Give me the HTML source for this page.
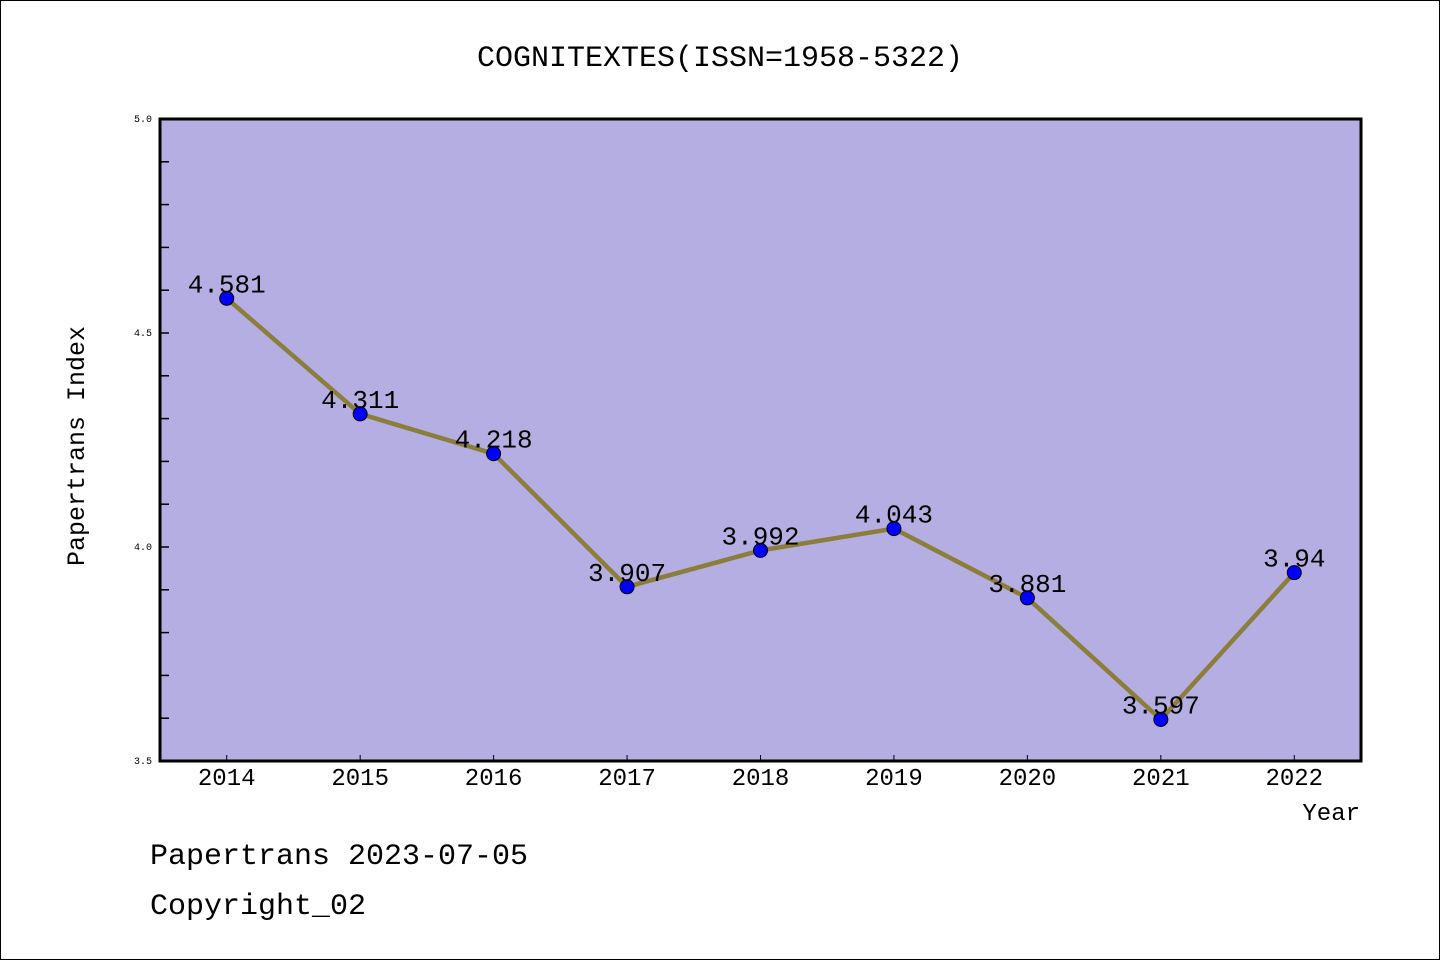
<!DOCTYPE html>
<html><head><meta charset="utf-8"><style>
body{margin:0;background:#fff}
svg{display:block}
text{font-family:"Liberation Mono","WenQuanYi Zen Hei",monospace;fill:#000}
</style></head><body>
<svg width="1440" height="960">
<rect x="0.5" y="0.5" width="1439" height="959" fill="#fff" stroke="#000"/>
<text x="720" y="66" font-size="30" text-anchor="middle">COGNITEXTES(ISSN=1958-5322)</text>
<rect x="160" y="119" width="1201" height="642" fill="#b5aee2"/>
<g id="axes"></g>
<g id="series"></g>
<rect x="160" y="119" width="1201" height="642" fill="none" stroke="#000" stroke-width="3"/>
<text x="84" y="446" font-size="25" text-anchor="middle" transform="rotate(-90 84 446)">Papertrans Index</text>
<text x="1360" y="820" font-size="24" text-anchor="end">Year</text>
<text x="150" y="864" font-size="30">Papertrans 2023-07-05</text>
<text x="150" y="914" font-size="30">Copyright_02</text>
</svg>
<script>
const years=[2014,2015,2016,2017,2018,2019,2020,2021,2022];
const values=[4.581,4.311,4.218,3.907,3.992,4.043,3.881,3.597,3.94];
const labels=["4.581","4.311","4.218","3.907","3.992","4.043","3.881","3.597","3.94"];
const yTicks=["3.5","4.0","4.5","5.0"];
const NS="http://www.w3.org/2000/svg";
const L=160,R=1361,T=119,B=761;
const xs=v=>L+(v-2013.5)/9*(R-L);
const ys=v=>B-(v-3.5)/1.5*(B-T);
function mk(tag,attrs,parent){const e=document.createElementNS(NS,tag);for(const k in attrs)e.setAttribute(k,attrs[k]);parent.appendChild(e);return e;}
const ax=document.getElementById('axes'),se=document.getElementById('series');
for(let i=0;i<=15;i++){const v=3.5+i*0.1;const y=ys(v);
 const t=mk('line',{x1:L,x2:L+9,y1:y,y2:y,stroke:'#000','stroke-width':1.5},ax);
 
 }
yTicks.forEach(s=>{const y=ys(parseFloat(s));const t=mk('text',{x:152,y:y+3,'font-size':10,'text-anchor':'end'},ax);t.textContent=s;
 
 });
years.forEach(yr=>{const x=xs(yr);
 const t=mk('line',{x1:x,x2:x,y1:B,y2:B-6,stroke:'#000','stroke-width':1},ax);
 
 
 const l=mk('text',{x:x,y:785,'font-size':24,'text-anchor':'middle'},ax);l.textContent=yr;
 
 });
const pl=mk('polyline',{points:years.map((y,i)=>xs(y)+','+ys(values[i])).join(' '),fill:'none',stroke:'#8b7d3a','stroke-width':4.5},se);


years.forEach((yr,i)=>{const x=xs(yr),y=ys(values[i]);
 const c=mk('circle',{cx:x,cy:y,r:7,fill:'#0000ff',stroke:'#000','stroke-width':1},se);
 
 
 const t=mk('text',{x:x,y:y-6,'font-size':26,'text-anchor':'middle'},se);t.textContent=labels[i];
 
 });
</script>
</body></html>
